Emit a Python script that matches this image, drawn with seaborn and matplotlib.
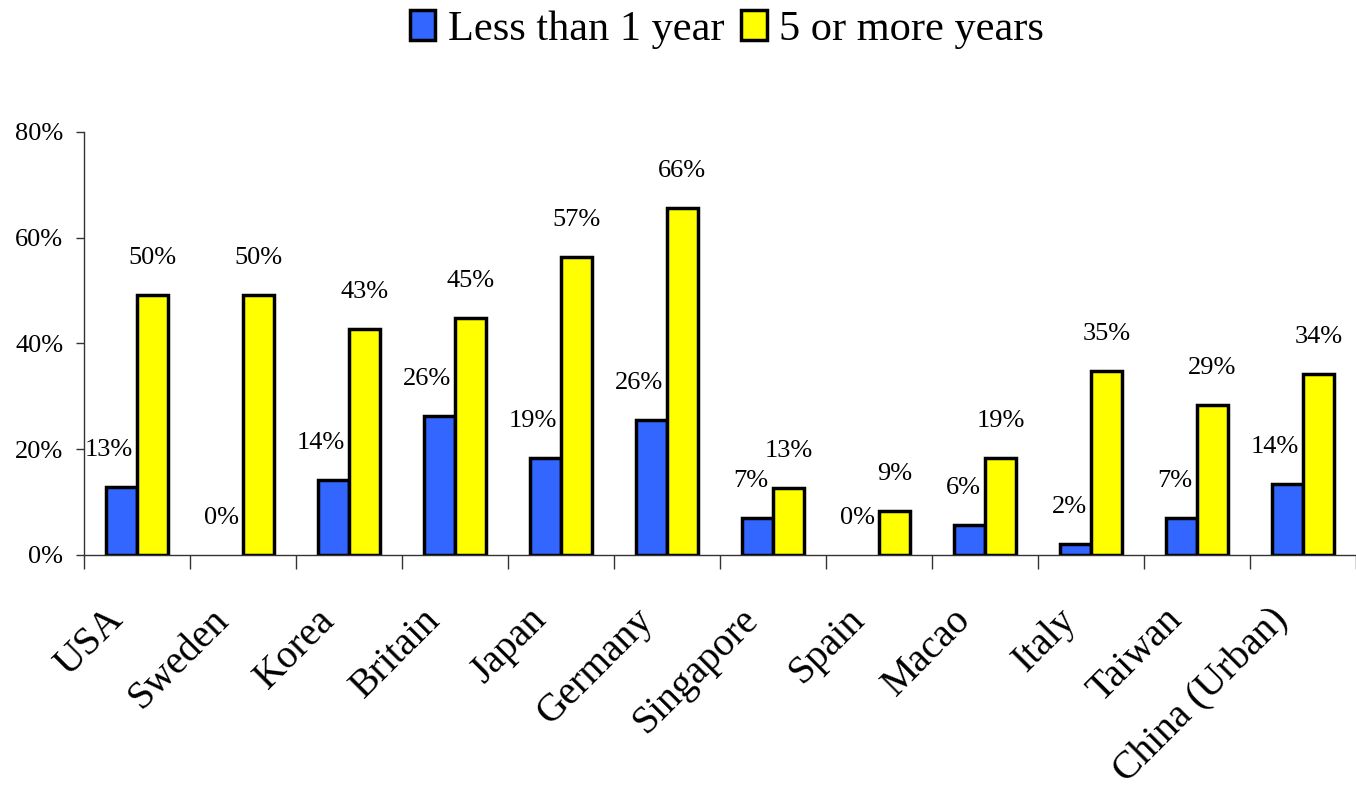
import matplotlib
matplotlib.use("Agg")
import matplotlib.pyplot as plt
import matplotlib.transforms as mtransforms
import seaborn as sns
import pandas as pd
from matplotlib.ticker import FixedLocator, PercentFormatter

countries = ["USA", "Sweden", "Korea", "Britain", "Japan", "Germany", "Singapore",
             "Spain", "Macao", "Italy", "Taiwan", "China (Urban)"]
less_1yr = [12.9, 0.0, 14.2, 26.3, 18.3, 25.5, 7.0, 0.0, 5.7, 2.1, 7.0, 13.4]
five_plus = [49.2, 49.2, 42.7, 44.8, 56.4, 65.6, 12.7, 8.3, 18.3, 34.8, 28.4, 34.2]
less_labels = ["13%", "0%", "14%", "26%", "19%", "26%", "7%", "0%", "6%", "2%", "7%", "14%"]
five_labels = ["50%", "50%", "43%", "45%", "57%", "66%", "13%", "9%", "19%", "35%", "29%", "34%"]
series_names = ["Less than 1 year", "5 or more years"]
colors = ["#3366FF", "#FFFF00"]

df = pd.DataFrame({
    "country": countries * 2,
    "value": less_1yr + five_plus,
    "series": [series_names[0]] * len(countries) + [series_names[1]] * len(countries),
})

sns.set_theme(style="white")
plt.rcParams["font.family"] = ["Liberation Serif", "DejaVu Serif"]
plt.rcParams["text.color"] = "black"
plt.rcParams["xtick.color"] = "black"
plt.rcParams["ytick.color"] = "black"

fig = plt.figure(figsize=(13.56, 7.95), dpi=100)
ax = fig.add_axes([0.062, 0.302, 0.938, 0.532])

sns.barplot(data=df, x="country", y="value", hue="series", palette=colors,
            width=0.58, gap=0, edgecolor="black", linewidth=2.5, ax=ax,
            legend=True, saturation=1)

ax.set_xlim(-0.5, len(countries) - 0.5)
ax.set_ylim(0, 80)
ax.set_yticks([0, 20, 40, 60, 80])
ax.yaxis.set_major_formatter(PercentFormatter(decimals=0))
ax.set_xlabel("")
ax.set_ylabel("")

# x ticks: labels at centers, tick marks at category boundaries
ax.xaxis.set_minor_locator(FixedLocator([i - 0.5 for i in range(len(countries) + 1)]))
ax.tick_params(axis="x", which="major", length=0, pad=43, labelsize=28.5, labelcolor="black")
ax.tick_params(axis="x", which="minor", length=10, width=1, color="#333333", direction="out", bottom=True)
ax.tick_params(axis="y", which="major", length=6, width=1, color="#333333", direction="out",
               labelsize=19, left=True, pad=9, labelcolor="black")
shift = mtransforms.ScaledTranslation(-20 / 100, 0, fig.dpi_scale_trans)
for lab in ax.get_xticklabels():
    lab.set_rotation(45)
    lab.set_ha("right")
    lab.set_va("center")
    lab.set_rotation_mode("anchor")
    lab.set_transform(lab.get_transform() + shift)

for s in ["top", "right"]:
    ax.spines[s].set_visible(False)
for s in ["left", "bottom"]:
    ax.spines[s].set_color("#333333")
    ax.spines[s].set_linewidth(1)

# data labels
blue_bars, yellow_bars = ax.containers[0], ax.containers[1]
for bars in (blue_bars, yellow_bars):
    for bar in bars:
        if bar.get_height() == 0:
            bar.set_visible(False)
for bar, txt in zip(blue_bars, less_labels):
    ax.annotate(txt, xy=(bar.get_x() + bar.get_width(), bar.get_height()),
                xytext=(-3, 26.5), textcoords="offset points", ha="right", va="center",
                fontsize=19, color="black")
for bar, txt in zip(yellow_bars, five_labels):
    ax.annotate(txt, xy=(bar.get_x() + bar.get_width() / 2, bar.get_height()),
                xytext=(0, 26.5), textcoords="offset points", ha="center", va="center",
                fontsize=19, color="black")

handles, labels = ax.get_legend_handles_labels()
ax.get_legend().remove()
fig.legend(handles, labels, loc="upper center", bbox_to_anchor=(0.536, 1.035), ncol=2,
           frameon=False, fontsize=30.5, handlelength=0.6, handleheight=0.7,
           handletextpad=0.3, columnspacing=0.4)

fig.savefig("out.png", dpi=100)
